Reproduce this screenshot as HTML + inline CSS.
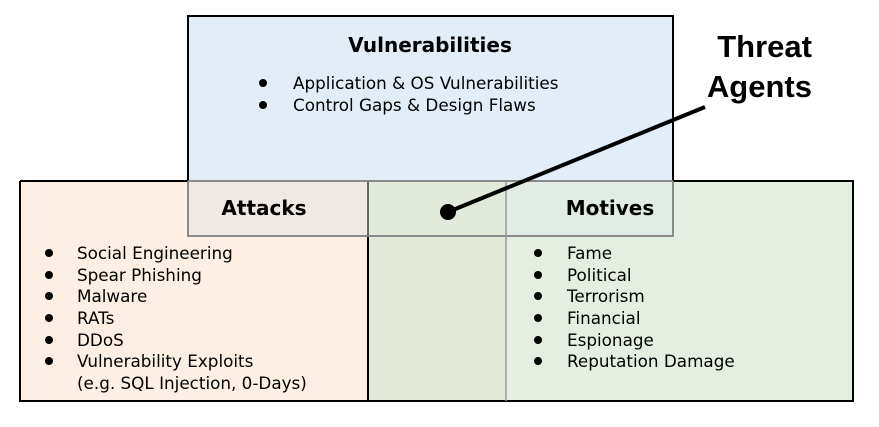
<!DOCTYPE html>
<html><head><meta charset="utf-8"><style>
html,body{margin:0;padding:0;background:#fff;width:879px;height:427px;overflow:hidden}
svg{display:block}
text{font-family:"DejaVu Sans","Liberation Sans",sans-serif;fill:#000}
.t{font-size:20px;font-weight:bold}
.b{font-size:16.8px}
</style></head><body>
<svg width="879" height="427" viewBox="0 0 879 427">
<rect x="188" y="16" width="485" height="165" fill="#e3edf7"/>
<rect x="20" y="181" width="168" height="220" fill="#fdefe3"/>
<rect x="188" y="236" width="180" height="165" fill="#fdefe3"/>
<rect x="188" y="181" width="180" height="55" fill="#f0e8e2"/>
<rect x="368" y="181" width="138" height="55" fill="#e1eadb"/>
<rect x="368" y="236" width="138" height="165" fill="#e3ead9"/>
<rect x="506" y="181" width="167" height="55" fill="#e0ece4"/>
<rect x="506" y="236" width="347" height="165" fill="#e4efe2"/>
<rect x="673" y="181" width="180" height="55" fill="#e4efe2"/>
<path d="M20 181 H188 M20 181 V401 H853 V181 H673" fill="none" stroke="#000" stroke-width="2"/>
<path d="M188 181 V16 H673 V181" fill="none" stroke="#000" stroke-width="2"/>
<path d="M368 236 V401" stroke="#000" stroke-width="2"/>
<path d="M188 181 V236 H673 V181 M188 181 H673" fill="none" stroke="#8a8a8a" stroke-width="2"/>
<path d="M368 182 V236" stroke="#666" stroke-width="2"/>
<path d="M506 182 V401" stroke="#999" stroke-width="1.5"/>

<text class="t" x="430" y="52" text-anchor="middle">Vulnerabilities</text>
<circle cx="263" cy="83" r="4"/><text class="b" x="293" y="89">Application &amp; OS Vulnerabilities</text>
<circle cx="263" cy="105" r="4"/><text class="b" x="293" y="111">Control Gaps &amp; Design Flaws</text>

<text class="t" x="264" y="215" text-anchor="middle">Attacks</text>
<text class="t" x="610" y="215" text-anchor="middle">Motives</text>

<g>
<circle cx="49" cy="253" r="4"/><text class="b" x="77" y="259">Social Engineering</text>
<circle cx="49" cy="275" r="4"/><text class="b" x="77" y="281">Spear Phishing</text>
<circle cx="49" cy="296" r="4"/><text class="b" x="77" y="302">Malware</text>
<circle cx="49" cy="318" r="4"/><text class="b" x="77" y="324">RATs</text>
<circle cx="49" cy="340" r="4"/><text class="b" x="77" y="346">DDoS</text>
<circle cx="49" cy="361" r="4"/><text class="b" x="77" y="367">Vulnerability Exploits</text>
<text class="b" x="77" y="389">(e.g. SQL Injection, 0-Days)</text>
</g>
<g>
<circle cx="538" cy="253" r="4"/><text class="b" x="567" y="259">Fame</text>
<circle cx="538" cy="275" r="4"/><text class="b" x="567" y="281">Political</text>
<circle cx="538" cy="296" r="4"/><text class="b" x="567" y="302">Terrorism</text>
<circle cx="538" cy="318" r="4"/><text class="b" x="567" y="324">Financial</text>
<circle cx="538" cy="340" r="4"/><text class="b" x="567" y="346">Espionage</text>
<circle cx="538" cy="361" r="4"/><text class="b" x="567" y="367">Reputation Damage</text>
</g>

<line x1="448" y1="212" x2="705" y2="107" stroke="#000" stroke-width="4"/>
<circle cx="448" cy="212" r="8"/>
<text x="812" y="57" text-anchor="end" style="font-family:'Liberation Sans',sans-serif;font-size:31px;font-weight:bold">Threat</text>
<text x="812" y="97" text-anchor="end" style="font-family:'Liberation Sans',sans-serif;font-size:31px;font-weight:bold">Agents</text>
</svg>
</body></html>
